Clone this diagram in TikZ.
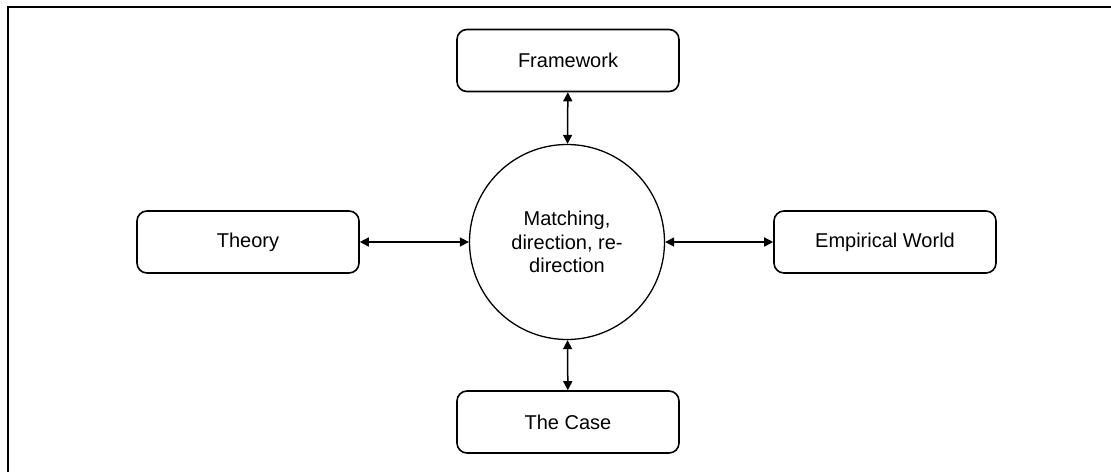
\documentclass[tikz,border=0pt]{standalone}
\usepackage{fontspec}
\setmainfont{Liberation Sans}
\usetikzlibrary{arrows.meta}
\begin{document}
\begin{tikzpicture}[x=1pt,y=-1pt,
  box/.style={draw, line width=1.6pt, rounded corners=10pt, minimum width=222pt,
    minimum height=62pt, inner sep=0pt, font=\fontsize{20}{23.3}\selectfont},
  hub/.style={draw, circle, line width=1.3pt, minimum size=195pt, inner sep=0pt,
    align=center, font=\fontsize{20}{23.3}\selectfont},
  link/.style={line width=1.5pt, {Triangle[length=9pt,width=9pt]}-{Triangle[length=9pt,width=9pt]}},
  frame/.style={line width=2.2pt}]
  \useasboundingbox (0,0) rectangle (1111,472);
  % open frame along the top and left edges
  \coordinate (ftr) at (1111,7);
  \coordinate (ftl) at (8,7);
  \coordinate (fbl) at (8,472);
  \draw[frame] (ftr) -- (ftl) -- (fbl);

  \node[hub] (core) at (567,242) {Matching,\\direction, re-\\direction};
  \node[box] (frm) at (568,60.5) {Framework};
  \node[box] (thy) at (248,242) {Theory};
  \node[box] (emp) at (885,242) {Empirical World};
  \node[box] (cas) at (568,422) {The Case};

  \draw[link] (frm) -- (core);
  \draw[link] (thy) -- (core);
  \draw[link] (core) -- (emp);
  \draw[link] (core) -- (cas);
\end{tikzpicture}
\end{document}
